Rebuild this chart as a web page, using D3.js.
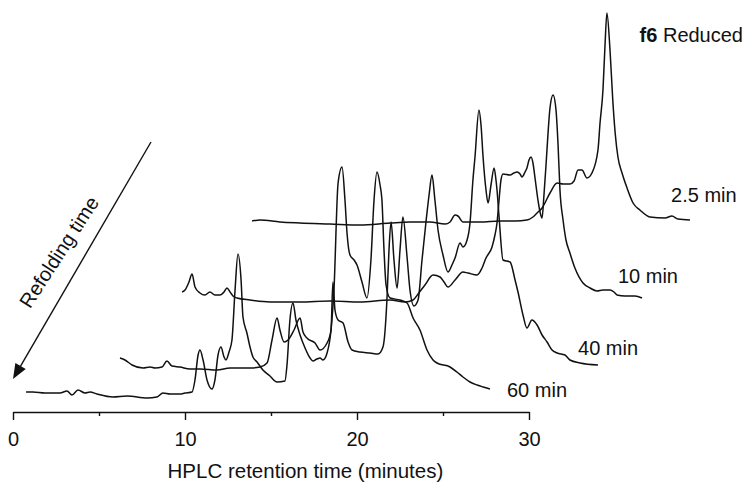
<!DOCTYPE html>
<html>
<head>
<meta charset="utf-8">
<script src="https://cdn.jsdelivr.net/npm/d3@7"></script>
<style>
  html, body { margin: 0; padding: 0; background: #ffffff; }
  svg { display: block; font-family: "Liberation Sans", Arial, sans-serif; }
</style>
</head>
<body>
<svg id="chart" width="748" height="484"></svg>
<script>
// ==============================
// DATA (retention time in minutes, detector signal in arbitrary units)
// ==============================

const traceNames = ["60 min", "40 min", "10 min", "2.5 min"];

const trace60 = [
  [0.76, 20], [1.16, 20], [1.86, 19], [2.73, 19], [3.14, 21], [3.43, 17], [3.78, 22], [4.19, 19],
  [4.48, 20], [4.88, 18], [5.81, 15], [6.63, 16], [7.79, 14], [8.37, 15], [8.72, 19], [9.13, 18],
  [9.71, 18], [10.0, 19], [10.41, 20], [10.58, 32], [10.76, 57], [10.87, 62], [11.05, 52], [11.28, 32],
  [11.57, 23], [11.74, 32], [11.92, 57], [12.09, 65], [12.27, 55], [12.38, 52], [12.56, 60], [12.73, 72],
  [12.91, 122], [13.08, 158], [13.26, 132], [13.37, 95], [13.60, 79], [13.78, 65], [13.95, 55], [14.19, 50],
  [14.53, 42], [14.94, 36], [15.35, 30], [15.81, 31], [15.93, 47], [16.10, 92], [16.28, 109], [16.45, 92],
  [16.69, 77], [16.98, 64], [17.27, 54], [17.44, 51], [17.67, 53], [17.85, 54], [18.02, 52], [18.26, 59],
  [18.49, 82], [18.66, 122], [18.90, 229], [19.13, 245], [19.30, 212], [19.42, 179], [19.59, 157], [19.83, 152],
  [20.0, 147], [20.29, 130], [20.58, 114], [20.81, 152], [20.99, 212], [21.16, 240], [21.34, 227], [21.45, 212],
  [21.57, 162], [21.69, 127], [21.92, 114], [22.50, 112], [22.91, 109], [23.26, 94], [23.66, 82], [24.07, 62],
  [24.42, 52], [24.65, 49], [25.41, 45], [25.81, 40], [26.16, 35], [26.57, 30], [26.98, 27], [27.33, 25],
  [27.73, 23]
];

const trace40 = [
  [6.22, 54], [6.51, 52], [6.92, 47], [7.56, 44], [7.97, 45], [8.26, 44], [8.66, 45], [8.95, 51],
  [9.24, 46], [9.71, 45], [10.29, 43], [10.87, 43], [11.86, 42], [12.62, 44], [13.78, 44], [14.36, 45],
  [14.77, 49], [15.06, 72], [15.35, 94], [15.52, 82], [15.76, 70], [15.99, 72], [16.34, 82], [16.69, 94],
  [16.86, 80], [17.09, 74], [17.56, 69], [17.85, 62], [18.26, 69], [18.49, 82], [18.60, 130], [18.72, 102],
  [18.90, 92], [19.19, 89], [19.48, 70], [19.71, 62], [20.17, 60], [20.76, 59], [21.22, 58], [21.51, 65],
  [21.74, 112], [21.86, 162], [21.98, 190], [22.15, 152], [22.33, 124], [22.50, 162], [22.67, 195], [22.91, 155],
  [23.08, 122], [23.31, 106], [23.55, 112], [23.78, 152], [24.01, 190], [24.19, 217], [24.36, 237], [24.53, 212],
  [24.71, 182], [25.0, 157], [25.29, 140], [25.52, 147], [25.70, 154], [25.99, 169], [26.16, 165], [26.40, 172],
  [26.57, 189], [26.74, 232], [26.86, 255], [27.09, 302], [27.21, 287], [27.33, 255], [27.50, 222], [27.62, 209],
  [27.79, 227], [27.97, 244], [28.08, 232], [28.14, 222], [28.26, 195], [28.49, 152], [28.90, 150], [29.19, 132],
  [29.36, 120], [29.65, 97], [29.88, 84], [30.17, 92], [30.47, 87], [30.76, 77], [31.05, 70], [31.34, 62],
  [31.63, 59], [32.09, 57], [32.38, 52], [32.97, 49], [34.01, 47]
];

const trace10 = [
  [9.83, 120], [10.0, 122], [10.23, 130], [10.41, 138], [10.58, 125], [10.87, 119], [11.16, 117], [11.45, 120],
  [11.74, 117], [12.03, 117], [12.27, 120], [12.44, 124], [12.62, 120], [12.79, 116], [13.02, 114], [13.78, 112],
  [14.94, 110], [16.69, 110], [18.43, 111], [20.17, 110], [21.92, 112], [22.79, 110], [23.26, 112], [23.55, 118],
  [23.95, 127], [24.42, 137], [24.83, 135], [25.06, 130], [25.29, 125], [25.70, 132], [26.16, 140], [26.45, 139],
  [26.98, 137], [27.27, 144], [27.50, 154], [27.85, 165], [28.02, 177], [28.14, 189], [28.26, 212], [28.37, 232],
  [28.49, 238], [28.90, 237], [29.13, 239], [29.30, 240], [29.48, 238], [29.59, 235], [29.77, 240], [29.88, 244],
  [30.0, 252], [30.12, 255], [30.23, 249], [30.35, 234], [30.52, 212], [30.64, 200], [30.76, 194], [30.87, 217],
  [30.99, 247], [31.10, 277], [31.22, 304], [31.40, 317], [31.57, 302], [31.69, 267], [31.80, 222], [31.98, 192],
  [32.15, 172], [32.38, 159], [32.67, 144], [33.14, 129], [33.55, 124], [33.95, 121], [34.30, 122], [34.71, 122],
  [34.94, 120], [35.12, 117], [35.58, 116], [36.16, 116], [36.57, 114]
];

const trace2p5 = [
  [13.90, 191], [14.36, 192], [15.52, 190], [16.69, 189], [18.43, 188], [20.17, 187], [21.92, 189], [23.08, 190],
  [24.24, 190], [25.12, 188], [25.41, 190], [25.70, 197], [25.87, 196], [26.16, 190], [27.15, 190], [28.31, 191],
  [29.19, 191], [29.88, 192], [30.23, 195], [30.47, 199], [30.76, 204], [31.22, 219], [31.63, 229], [31.98, 228],
  [32.38, 228], [32.62, 231], [32.85, 242], [33.08, 242], [33.37, 234], [33.66, 239], [34.01, 262], [34.13, 289],
  [34.30, 322], [34.42, 367], [34.53, 399], [34.71, 362], [34.87, 312], [35.01, 279], [35.17, 255], [35.41, 239],
  [35.70, 224], [36.05, 209], [36.45, 202], [37.03, 195], [37.91, 194], [38.31, 196], [38.66, 193], [39.36, 192]
];

// where each trace label sits (minutes, signal)
const labelPositions = [[28.72, 15], [32.85, 57], [35.17, 129], [38.26, 210]];

const tickValues = [0, 5, 10, 15, 20, 25, 30];
const tickLabels = ["0", "", "10", "", "20", "", "30"];

// ==============================
// SCALES
// ==============================

const svg = d3.select("#chart");

const x = d3.scaleLinear().domain([0, 30]).range([13, 529]);
const y = d3.scaleLinear().domain([0, 400]).range([412, 12]);

const ink = "#111111";

// ==============================
// TRACES
// ==============================

const line = d3.line()
  .x(d => x(d[0]))
  .y(d => y(d[1]))
  .curve(d3.curveMonotoneX);

const traces = [trace60, trace40, trace10, trace2p5];

svg.append("g")
  .selectAll("path")
  .data(traces)
  .enter()
  .append("path")
  .attr("d", line)
  .attr("fill", "none")
  .attr("stroke", ink)
  .attr("stroke-width", 1.5)
  .attr("stroke-linejoin", "round");

svg.append("g")
  .selectAll("text")
  .data(traceNames)
  .enter()
  .append("text")
  .attr("x", (d, i) => x(labelPositions[i][0]))
  .attr("y", (d, i) => y(labelPositions[i][1]))
  .attr("font-size", "20px")
  .attr("fill", ink)
  .text(d => d);

// ==============================
// X AXIS
// ==============================

const axis = d3.axisBottom(x)
  .tickValues(tickValues)
  .tickSize(0)
  .tickFormat((d, i) => tickLabels[i]);

const axisGroup = svg.append("g")
  .attr("transform", `translate(0, ${y(0)})`)
  .call(axis);

axisGroup.select(".domain")
  .attr("stroke", ink)
  .attr("stroke-width", 1.6);

axisGroup.selectAll(".tick line")
  .attr("stroke", ink)
  .attr("stroke-width", 1.4)
  .attr("y2", d => d % 10 === 0 ? 8 : 4);

axisGroup.selectAll(".tick text")
  .attr("fill", ink)
  .attr("font-size", "20px")
  .attr("font-family", "Liberation Sans, Arial, sans-serif")
  .attr("dy", 0)
  .attr("y", 34);

svg.append("text")
  .attr("x", x(17))
  .attr("y", 478)
  .attr("text-anchor", "middle")
  .attr("font-size", "20.5px")
  .attr("fill", ink)
  .text("HPLC retention time (minutes)");

// ==============================
// TITLE
// ==============================

const title = svg.append("text")
  .attr("x", 743)
  .attr("y", 42)
  .attr("text-anchor", "end")
  .attr("font-size", "20px")
  .attr("fill", ink);

title.append("tspan").attr("font-weight", "bold").text("f6");
title.append("tspan").text(" Reduced");

// ==============================
// REFOLDING TIME ARROW
// ==============================

const arrowStart = [151, 142];
const arrowEnd = [13, 379];
const angle = Math.atan2(arrowEnd[1] - arrowStart[1], arrowEnd[0] - arrowStart[0]);
const headLength = 15;
const headWidth = 6;

const baseX = arrowEnd[0] - headLength * Math.cos(angle);
const baseY = arrowEnd[1] - headLength * Math.sin(angle);

svg.append("line")
  .attr("x1", arrowStart[0])
  .attr("y1", arrowStart[1])
  .attr("x2", baseX)
  .attr("y2", baseY)
  .attr("stroke", ink)
  .attr("stroke-width", 1.4);

svg.append("path")
  .attr("d", d3.line()([
    arrowEnd,
    [baseX + headWidth * Math.sin(angle), baseY - headWidth * Math.cos(angle)],
    [baseX - headWidth * Math.sin(angle), baseY + headWidth * Math.cos(angle)]
  ]) + "Z")
  .attr("fill", ink);

svg.append("text")
  .attr("transform", "translate(59, 252) rotate(-57)")
  .attr("text-anchor", "middle")
  .attr("dominant-baseline", "central")
  .attr("font-size", "20px")
  .attr("fill", ink)
  .text("Refolding time");
</script>
</body>
</html>
